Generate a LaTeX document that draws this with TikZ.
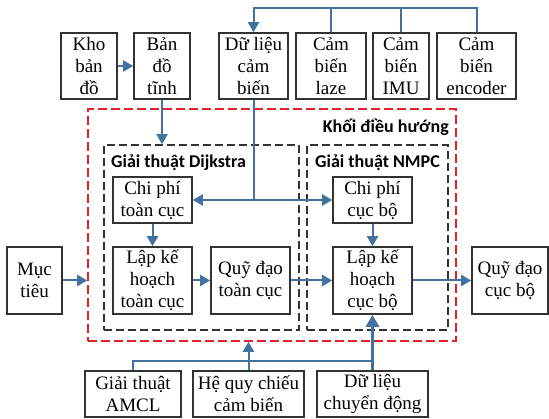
\documentclass[tikz,border=0pt]{standalone}
\usepackage{fontspec}
\setmainfont{Liberation Serif}
\newfontfamily\calib{Carlito}
\usetikzlibrary{arrows.meta}
\definecolor{arrblue}{RGB}{68,114,160}
\definecolor{dred}{RGB}{225,35,40}
\definecolor{dgray}{RGB}{50,50,50}
\begin{document}
\begin{tikzpicture}[x=1pt,y=-1pt,
  box/.style={draw=dgray,line width=1.6pt,inner sep=0pt,align=center,
    font=\fontsize{19}{22}\selectfont},
  line/.style={draw=arrblue,line width=2pt},
  arr/.style={line,-{Triangle[length=10pt,width=11pt]}},
  frame/.style={draw=dgray,line width=1.6pt,dash pattern=on 8pt off 4pt,inner sep=0pt},
  redframe/.style={draw=dred,line width=1.6pt,dash pattern=on 9pt off 4pt,inner sep=0pt},
  lbl/.style={font=\calib\bfseries\fontsize{18}{20}\selectfont,inner sep=0pt}]
\useasboundingbox (0,0) rectangle (549,419);
% frames
\node[redframe,minimum width=368pt,minimum height=232pt] (red) at (272,225) {};
\node[frame,minimum width=195pt,minimum height=185pt] (dij) at (201.5,237.5) {};
\node[frame,minimum width=141pt,minimum height=185pt] (nmpc) at (377.5,237.5) {};
\node[lbl,anchor=east] (tkhoi) at (449,127) {Khối điều hướng};
\node[lbl,anchor=west] (tdij) at (111,163) {Giải thuật Dijkstra};
\node[lbl,anchor=west] (tnmpc) at (315,163) {Giải thuật NMPC};
% top row
\node[box,minimum width=56pt,minimum height=66pt] (kho) at (89,66) {Kho\\bản\\đồ};
\node[box,minimum width=56pt,minimum height=66pt] (bando) at (162,66) {Bản\\đồ\\tĩnh};
\node[box,minimum width=69pt,minimum height=66pt] (dulieu) at (253.5,66) {Dữ liệu\\cảm\\biến};
\node[box,minimum width=70pt,minimum height=66pt] (laze) at (331,66) {Cảm\\biến\\laze};
\node[box,minimum width=56pt,minimum height=66pt] (imu) at (401,66) {Cảm\\biến\\IMU};
\node[box,minimum width=79pt,minimum height=66pt] (enc) at (476.5,66) {Cảm\\biến\\encoder};
% inner
\node[box,minimum width=79pt,minimum height=46pt] (cptc) at (152.5,200) {Chi phí\\toàn cục};
\node[box,minimum width=79pt,minimum height=46pt] (cpcb) at (372.5,200) {Chi phí\\cục bộ};
\node[box,minimum width=79pt,minimum height=67pt] (lkhtc) at (152.5,280.5) {Lập kế\\hoạch\\toàn cục};
\node[box,minimum width=79pt,minimum height=67pt] (qdtc) at (250.5,280.5) {Quỹ đạo\\toàn cục};
\node[box,minimum width=79pt,minimum height=67pt] (lkhcb) at (372.5,280.5) {Lập kế\\hoạch\\cục bộ};
\node[box,minimum width=76pt,minimum height=67pt] (qdcb) at (510,280.5) {Quỹ đạo\\cục bộ};
\node[box,minimum width=55pt,minimum height=67pt] (muc) at (34.5,280.5) {Mục\\tiêu};
% bottom
\node[box,minimum width=96pt,minimum height=46pt] (amcl) at (133,394) {Giải thuật\\AMCL};
\node[box,minimum width=111pt,minimum height=46pt] (hqc) at (248.5,394) {Hệ quy chiếu\\cảm biến};
\node[box,minimum width=111pt,minimum height=46pt] (dlcd) at (372.5,394) {Dữ liệu\\chuyển động};
% top connectors
\coordinate (tl) at (253.5,8);
\draw[arr] (enc.north) |- (tl) -- (dulieu.north);
\draw[line] (laze.north) -- (laze.north|-tl);
\draw[line] (imu.north) -- (imu.north|-tl);
\draw[arr] (kho) -- (bando);
\draw[arr] (bando.south) -- (bando.south|-dij.north);
\coordinate (j) at (253.5,200);
\draw[line] (dulieu.south) -- (j);
\draw[arr] (j) -- (cptc.east);
\draw[arr] (j) -- (cpcb.west);
\draw[arr] (cptc) -- (lkhtc);
\draw[arr] (lkhtc) -- (qdtc);
\draw[arr] (qdtc) -- (lkhcb);
\draw[arr] (cpcb) -- (lkhcb);
\draw[arr] (lkhcb) -- (qdcb);
\draw[arr] (muc.east) -- (muc.east-|red.west);
% bottom connectors
\coordinate (bl) at (133,361);
\draw[line] (amcl.north) -- (bl) -- (bl-|dlcd.north);
\draw[arr] (hqc.north) -- (hqc.north|-red.south);
\draw[line,line width=2.8pt,-{Triangle[length=12pt,width=13pt]}] (dlcd.north) -- (lkhcb.south);
\end{tikzpicture}
\end{document}
